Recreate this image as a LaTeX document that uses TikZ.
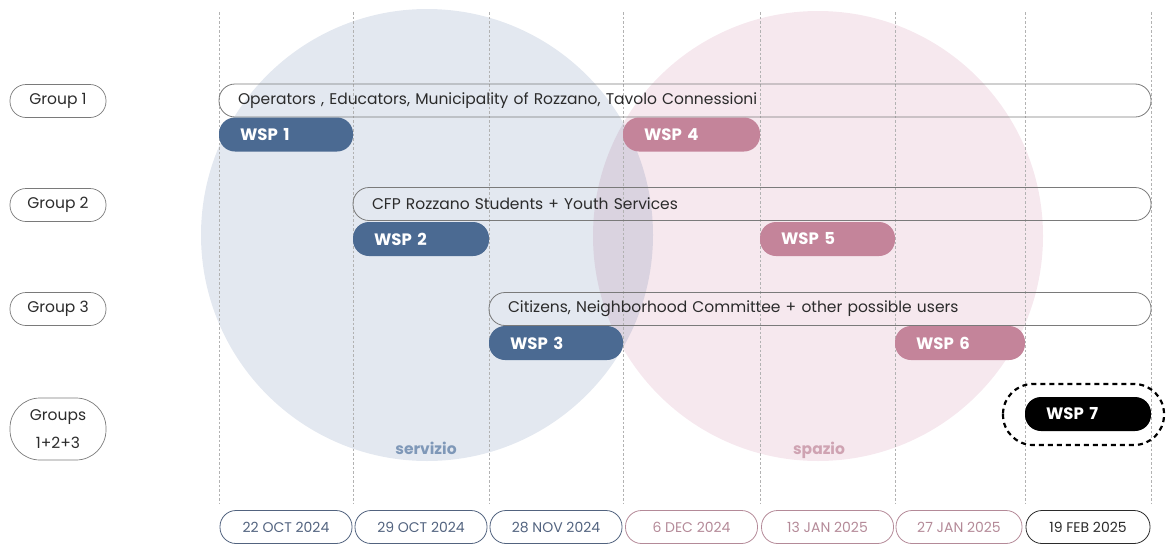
\documentclass[tikz,border=0pt]{standalone}
\usepackage{fontspec}
\setmainfont{Poppins}
\definecolor{svc}{HTML}{4B6A92}
\definecolor{spc}{HTML}{C4849A}
\definecolor{svcfill}{HTML}{E3E8F0}
\definecolor{spcfill}{HTML}{F6E8EE}
\definecolor{svctext}{HTML}{7F98B8}
\definecolor{spctext}{HTML}{CFA3B2}
\definecolor{ink}{HTML}{2B2B2B}
\definecolor{rule}{HTML}{7A7A7A}
\definecolor{datesvc}{HTML}{52637F}
\definecolor{datespc}{HTML}{B48A98}
\tikzset{
  pill/.style={rounded corners=16pt, minimum height=33pt, inner sep=0pt},
  grouplabel/.style={pill, draw=rule, line width=0.7pt, minimum width=96pt, text=ink},
  bar/.style={pill, draw=rule, line width=0.8pt, text=ink, align=left, inner xsep=19pt},
  wsp/.style={pill, minimum height=34pt, text=white, font=\fontsize{16.5}{18}\selectfont\bfseries, align=left, inner xsep=21pt, text width=#1},
  datebox/.style={pill, draw=#1, line width=0.8pt, text=#1, minimum width=132pt, font=\fontsize{14}{16}\selectfont},
  guide/.style={draw=gray!60, line width=0.6pt, dash pattern=on 2.5pt off 2pt},
  theme/.style={anchor=base, font=\fontsize{15.5}{18}\selectfont\bfseries},
}
\begin{document}
\begin{tikzpicture}[x=1pt, y=-1pt, font=\fontsize{15.5}{18}\selectfont]
\useasboundingbox (0,0) rectangle (1166,546);

% two theme circles, multiplied where they overlap
\fill[svcfill] (427,235) circle (226);
\fill[spcfill, blend mode=multiply] (818,236) circle (225);
\node[theme, text=svctext] (servizio) at (426,454) {servizio};
\node[theme, text=spctext] (spazio) at (819,454) {spazio};

% timeline guides
\foreach \x in {219,353,489,623,760,895,1025,1151}
  \draw[guide] (\x,12) -- (\x,503);

% group labels
\node[grouplabel] (g1) at (58,101) {Group 1};
\node[grouplabel] (g2) at (58,205) {Group 2};
\node[grouplabel] (g3) at (58,309) {Group 3};
\node[grouplabel, minimum height=62pt, rounded corners=30pt, align=center, font=\fontsize{15.5}{28}\selectfont] (g123) at (58,429) {Groups\\1+2+3};

% participant bars
\node[bar, minimum width=932pt, text width=894pt] (b1) at (685,100.5) {Operators , Educators, Municipality of Rozzano, Tavolo Connessioni};
\node[bar, minimum width=798pt, text width=760pt] (b2) at (752,204) {CFP Rozzano Students + Youth Services};
\node[bar, minimum width=662pt, text width=624pt] (b3) at (820,309) {Citizens, Neighborhood Committee + other possible users};

% workshops
\node[wsp=92pt, fill=svc] (w1) at (286,134.5) {WSP 1};
\node[wsp=95pt, fill=spc] (w4) at (691.5,134.5) {WSP 4};
\node[wsp=94pt, fill=svc] (w2) at (421,239) {WSP 2};
\node[wsp=93pt, fill=spc] (w5) at (827.5,239) {WSP 5};
\node[wsp=92pt, fill=svc] (w3) at (556,343) {WSP 3};
\node[wsp=88pt, fill=spc] (w6) at (960,343) {WSP 6};
\node[wsp=84pt, fill=black] (w7) at (1088,414) {WSP 7};
\draw[line width=2.2pt, dash pattern=on 5pt off 4pt, rounded corners=30pt] (1003,384) rectangle (1164,445);

% dates
\node[datebox=datesvc] (d1) at (286,527) {22 OCT 2024};
\node[datebox=datesvc] (d2) at (421,527) {29 OCT 2024};
\node[datebox=datesvc] (d3) at (556,527) {28 NOV 2024};
\node[datebox=datespc] (d4) at (691.5,527) {6 DEC 2024};
\node[datebox=datespc] (d5) at (827.5,527) {13 JAN 2025};
\node[datebox=datespc, minimum width=126pt] (d6) at (959,527) {27 JAN 2025};
\node[datebox=ink, minimum width=124pt] (d7) at (1088,527) {19 FEB 2025};
\end{tikzpicture}
\end{document}
